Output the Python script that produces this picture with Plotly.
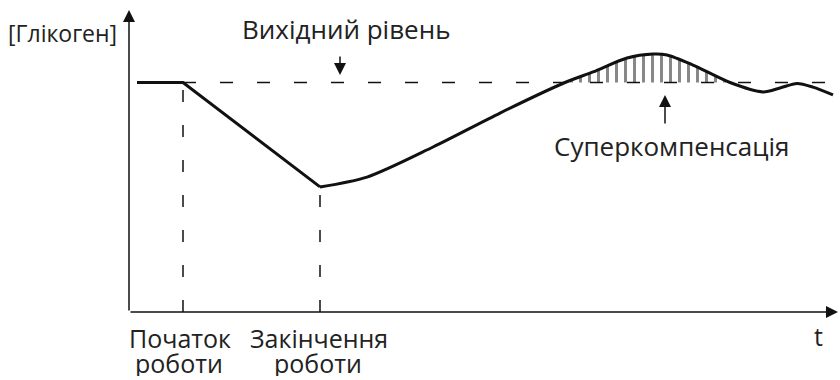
import plotly.graph_objects as go

# --- DATA (time in arbitrary units, glycogen level with baseline = 100) ---
BASE_LEVEL = 100
work_start = 5.4
work_end = 19.1

drop_t = [0.8, 5.4, 19.1]
drop_g = [100, 100, 54.5]

recovery_t = [19.1, 23.8, 30.4, 37.1, 43.6, 46.4, 49.8, 52.4, 53.8, 56.4, 60.1,
              63.4, 65.1, 66.8, 68.4, 70.4]
recovery_g = [54.5, 58.8, 71.9, 86.7, 100, 104.6, 110.7, 112.4, 112.0, 107.6, 100,
              95.9, 97.6, 99.6, 98.0, 94.6]

# part of the curve above the starting level (supercompensation)
SC_FROM, SC_TO = 4, 10
level_t = [5.4, 70.9]

T_MAX, G_MAX = 70.9, 131.6

INK = "#111111"
TXT = "#222222"
FONT = "Open Sans, Noto Sans, sans-serif"

fig = go.Figure()

# starting level (dashed)
fig.add_trace(go.Scatter(x=level_t, y=[BASE_LEVEL, BASE_LEVEL], mode="lines",
                         line=dict(color=INK, width=1.5, dash="13px,24px"),
                         hoverinfo="skip"))

# vertical dashed markers for start / end of work
for t0, g0 in [(work_start, BASE_LEVEL), (work_end, drop_g[-1])]:
    fig.add_trace(go.Scatter(x=[t0, t0], y=[0, g0], mode="lines",
                             line=dict(color=INK, width=1.5, dash="12px,23px"),
                             hoverinfo="skip"))

# hatched supercompensation area
sc_t = recovery_t[SC_FROM:SC_TO + 1]
sc_g = recovery_g[SC_FROM:SC_TO + 1]
fig.add_trace(go.Scatter(x=[sc_t[0], sc_t[-1]], y=[BASE_LEVEL, BASE_LEVEL],
                         mode="lines", line=dict(width=0), hoverinfo="skip"))
fig.add_trace(go.Scatter(x=sc_t, y=sc_g, mode="lines", fill="tonexty",
                         line=dict(width=0, shape="spline"),
                         fillcolor="rgba(0,0,0,0)",
                         fillpattern=dict(shape="|", size=9, solidity=0.33,
                                          fgcolor=INK, bgcolor="rgba(0,0,0,0)"),
                         hoverinfo="skip"))

# glycogen curve
fig.add_trace(go.Scatter(x=drop_t, y=drop_g, mode="lines",
                         line=dict(color=INK, width=3)))
fig.add_trace(go.Scatter(x=recovery_t, y=recovery_g, mode="lines",
                         line=dict(color=INK, width=3, shape="spline", smoothing=0.8)))

# axes with arrows
arrow = dict(showarrow=True, arrowhead=2, arrowsize=1.6, arrowwidth=1.5,
             arrowcolor=INK, axref="x", ayref="y", text="")
fig.add_annotation(x=T_MAX, y=0, ax=0, ay=0, **arrow)
fig.add_annotation(x=0, y=G_MAX, ax=0, ay=0, **arrow)

# pointer arrows
fig.add_annotation(x=21.1, y=103.3, ax=21.1, ay=112, **arrow)
fig.add_annotation(x=53.6, y=94.6, ax=53.6, ay=81.5, **arrow)


def label(x, y, text, size=25, height=None):
    fig.add_annotation(x=x, y=y, text=text, showarrow=False,
                       xanchor="center", yanchor="middle", height=height,
                       font=dict(family=FONT, size=size, color=TXT))


label(-6.65, 121.6, "[Глікоген]", 23)
label(21.75, 123.1, "Вихідний рівень", 26)
label(54.25, 72.3, "Суперкомпенсація", 26)
label(5.1, -11.3, "Початок", height=26)
label(5.0, -22.4, "роботи", height=26)
label(18.95, -11.3, "Закінчення", height=26)
label(18.85, -22.4, "роботи", height=26)
label(68.9, -10.5, "t")

fig.update_layout(
    width=840, height=380,
    margin=dict(l=0, r=0, t=0, b=0),
    paper_bgcolor="white", plot_bgcolor="white",
    showlegend=False,
    xaxis=dict(visible=False, range=[-12.9, 71.1], fixedrange=True),
    yaxis=dict(visible=False, range=[-29.63, 135.95], fixedrange=True),
)

fig.write_html("out.html", config={"displayModeBar": False},
               post_script="document.body.style.margin='0';")
